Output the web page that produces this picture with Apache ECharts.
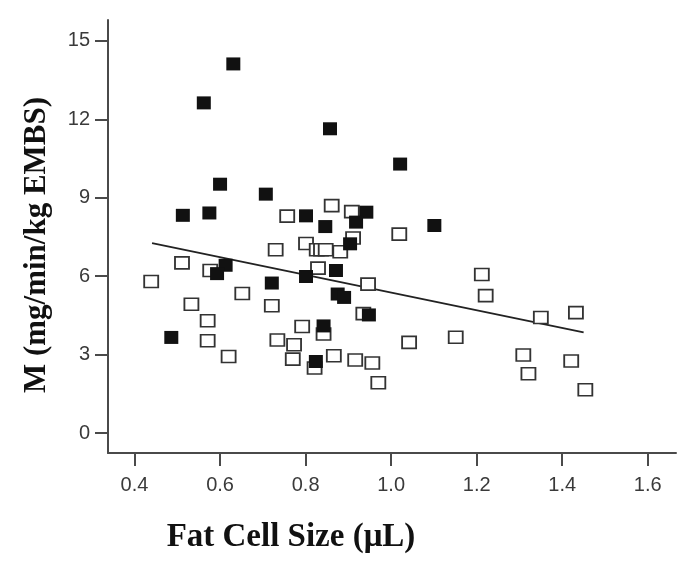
<!DOCTYPE html>
<html>
<head>
<meta charset="utf-8">
<script src="https://cdn.jsdelivr.net/npm/echarts@6/dist/echarts.min.js"></script>
<style>html,body{margin:0;padding:0;background:#fff}#c{width:694px;height:569px}</style>
</head>
<body>
<div id="c"></div>
<script>
// Filled squares
var filledX = [0.631,0.562,0.600,0.707,0.513,0.575,0.801,0.846,0.942,0.918,1.101,0.904,0.613,0.593,0.801,0.871,0.721,0.875,0.890,0.948,0.842,0.486,0.824,0.857,1.021];
var filledY = [14.12,12.63,9.52,9.14,8.33,8.42,8.31,7.90,8.45,8.07,7.94,7.24,6.42,6.10,5.99,6.22,5.74,5.32,5.19,4.52,4.10,3.66,2.74,11.64,10.29];
// Open squares
var openX = [0.861,0.908,0.757,1.019,0.911,0.730,0.801,0.826,0.836,0.847,0.881,0.511,0.577,0.829,0.439,0.946,0.652,0.533,0.721,0.571,0.792,0.842,0.571,0.734,0.773,0.620,0.770,0.821,0.866,0.916,0.956,0.970,1.042,1.151,0.935,1.212,1.221,1.350,1.432,1.309,1.321,1.421,1.454];
var openY = [8.70,8.47,8.30,7.61,7.46,7.01,7.25,7.01,7.01,7.01,6.94,6.51,6.22,6.31,5.80,5.70,5.34,4.93,4.87,4.30,4.08,3.79,3.53,3.56,3.38,2.93,2.83,2.49,2.96,2.80,2.68,1.93,3.47,3.67,4.57,6.07,5.26,4.42,4.61,2.99,2.27,2.76,1.66];
// Regression line end points
var lineX = [0.441, 1.450];
var lineY = [7.27, 3.85];
// Tick labels
var xTicks = [0.4, 0.6, 0.8, 1.0, 1.2, 1.4, 1.6];
var yTicks = [0, 3, 6, 9, 12, 15];
var xTitle = 'Fat Cell Size (\u03bcL)';
var yTitle = 'M (mg/min/kg EMBS)';

function zip(a, b) { return a.map(function (v, i) { return [v, b[i]]; }); }

var chart = echarts.init(document.getElementById('c'), null, {renderer: 'canvas'});
var axisCol = '#4a4a4a';
chart.setOption({
  animation: false,
  backgroundColor: '#fff',
  grid: {left: 108, right: 18, top: 20, bottom: 116},
  xAxis: {
    type: 'value', min: 0.338, max: 1.666,
    splitLine: {show: false},
    axisLine: {onZero: false, lineStyle: {color: axisCol, width: 2}},
    axisTick: {show: true, length: 13, lineStyle: {color: axisCol, width: 2}, customValues: xTicks},
    axisLabel: {customValues: xTicks, margin: 22, fontSize: 20, color: '#3a3a3a', fontFamily: 'Liberation Sans',
      formatter: function (v) { return (+v).toFixed(1); }}
  },
  yAxis: {
    type: 'value', min: -0.76, max: 15.8,
    splitLine: {show: false},
    axisLine: {show: true, onZero: false, lineStyle: {color: axisCol, width: 2}},
    axisTick: {show: true, length: 13, lineStyle: {color: axisCol, width: 2}, customValues: yTicks},
    axisLabel: {customValues: yTicks, margin: 18, fontSize: 20, color: '#3a3a3a', fontFamily: 'Liberation Sans'}
  },
  graphic: [
    {type: 'text', x: 291, y: 537, style: {text: xTitle, font: 'bold 33px "Liberation Serif"', fill: '#111', align: 'center', verticalAlign: 'middle'}},
    {type: 'text', x: 37, y: 245, rotation: Math.PI / 2, style: {text: yTitle, font: 'bold 31px "Liberation Serif"', fill: '#111', align: 'center', verticalAlign: 'middle'}}
  ],
  series: [
    {type: 'line', data: zip(lineX, lineY), symbol: 'none', lineStyle: {color: '#222', width: 1.8}, z: 1},
    {type: 'scatter', data: zip(openX, openY), symbol: 'rect', symbolSize: [14, 12],
      itemStyle: {color: '#fff', borderColor: '#333', borderWidth: 1.7, opacity: 1}, z: 2},
    {type: 'scatter', data: zip(filledX, filledY), symbol: 'rect', symbolSize: [14, 13],
      itemStyle: {color: '#111', opacity: 1}, z: 3}
  ]
});
</script>
</body>
</html>
